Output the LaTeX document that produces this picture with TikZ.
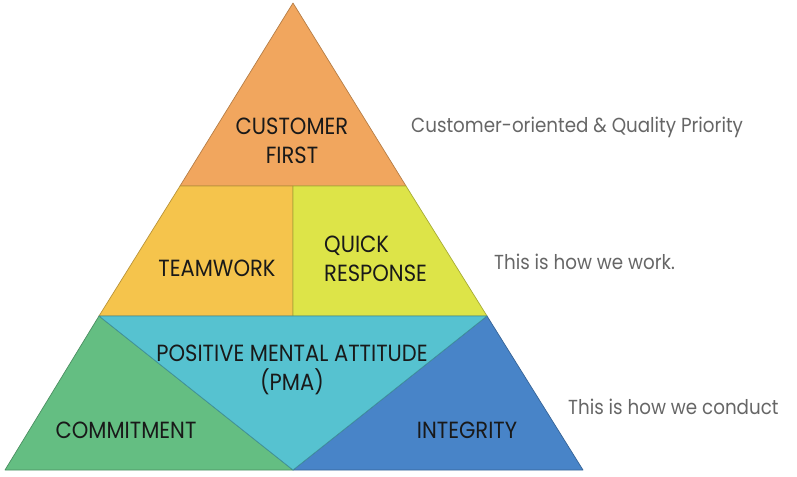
\documentclass[tikz,border=0pt]{standalone}
\usepackage{fontspec}
\setmainfont[FakeStretch=0.9]{Poppins}
\usepackage{tikz}
\usepackage{xcolor}
\definecolor{firstorange}{RGB}{241,166,94}
\definecolor{teamyellow}{RGB}{245,196,76}
\definecolor{quicklime}{RGB}{221,228,72}
\definecolor{pmacyan}{RGB}{86,194,208}
\definecolor{commitgreen}{RGB}{100,190,130}
\definecolor{integblue}{RGB}{72,132,200}
\tikzset{
    level-face/.style = {draw=#1!75!black, fill=#1, line width=0.7pt, line join=round},
    level-label/.style = {text=black!90, font=\fontsize{23.5}{29}\selectfont, align=center, inner sep=0pt},
    side-note/.style = {text=black!60, font=\fontsize{20.4}{24}\selectfont, anchor=west, inner sep=0pt},
}

\begin{document}
\begin{tikzpicture}[x=1bp, y=-1bp]
\useasboundingbox (0,0) rectangle (797,477);
% pyramid corners
\coordinate (apex) at (293,3);
\coordinate (top-l) at (180,186);
\coordinate (top-r) at (406,186);
\coordinate (top-m) at (293,186);
\coordinate (mid-l) at (99,316);
\coordinate (mid-r) at (487,316);
\coordinate (mid-m) at (293,316);
\coordinate (base-l) at (5,470);
\coordinate (base-r) at (583,470);
\coordinate (base-m) at (293,470);

% faces
\draw[level-face=firstorange] (apex) -- (top-r) -- (top-l) -- cycle;
\draw[level-face=teamyellow] (top-l) -- (top-m) -- (mid-m) -- (mid-l) -- cycle;
\draw[level-face=quicklime] (top-m) -- (top-r) -- (mid-r) -- (mid-m) -- cycle;
\draw[level-face=commitgreen] (mid-l) -- (base-m) -- (base-l) -- cycle;
\draw[level-face=integblue] (mid-r) -- (base-r) -- (base-m) -- cycle;
\draw[level-face=pmacyan] (mid-l) -- (mid-r) -- (base-m) -- cycle;

% labels
\node[level-label] (first) at (292,141) {CUSTOMER\\FIRST};
\node[level-label] (team) at (217,268) {TEAMWORK};
\node[level-label, align=left, anchor=west] (quick) at (324,259) {QUICK\\RESPONSE};
\node[level-label] (pma) at (292,370) {POSITIVE MENTAL ATTITUDE\\(PMA)};
\node[level-label] (commit) at (126,430) {COMMITMENT};
\node[level-label] (integ) at (467,430) {INTEGRITY};

% notes
\node[side-note] (note-first) at (411,127) {Customer-oriented \& Quality Priority};
\node[side-note] (note-work) at (494,262) {This is how we work.};
\node[side-note] (note-conduct) at (568,407) {This is how we conduct};
\end{tikzpicture}
\end{document}
